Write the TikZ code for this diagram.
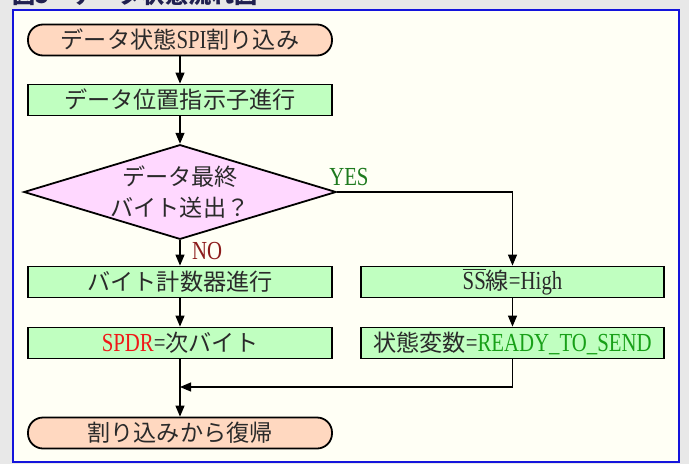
\documentclass[tikz,border=0pt]{standalone}
\usepackage{fontspec}
\setmainfont{Liberation Serif}[FakeStretch=0.8]
\newfontfamily\jp{Noto Sans CJK JP}[Scale=0.89]
\usetikzlibrary{shapes.geometric,arrows.meta}
\definecolor{bg}{HTML}{E8E8E8}
\definecolor{panel}{HTML}{FFFFF5}
\definecolor{frame}{HTML}{1414DC}
\definecolor{term}{HTML}{FFD8C0}
\definecolor{proc}{HTML}{C0FFC0}
\definecolor{dec}{HTML}{FFD8FF}
\definecolor{yesc}{HTML}{1E7A1E}
\definecolor{noc}{HTML}{8C1C1C}
\definecolor{spdr}{HTML}{F01818}
\definecolor{rdy}{HTML}{18A018}
\definecolor{txt}{HTML}{2A2A2A}
\definecolor{titlec}{HTML}{202050}
\newcommand{\ovl}[1]{\leavevmode\vbox{\hrule height 1.1pt\kern1.6pt\hbox{#1}}}
\begin{document}
\begin{tikzpicture}[x=1pt,y=-1pt,
  base/.style={draw=black,line width=1.8pt,text=txt,font=\fontsize{26}{28}\selectfont,inner sep=0pt},
  termbox/.style={base,fill=term,rounded corners=15pt,minimum width=304pt,minimum height=31pt},
  procbox/.style={base,fill=proc,minimum width=304pt,minimum height=31pt},
  decbox/.style={base,fill=dec,diamond,aspect=3.3,minimum width=302pt,minimum height=91pt,align=center,font=\jp\fontsize{26}{31}\selectfont},
  flow/.style={line width=1.2pt,draw=black,-{Triangle[length=11pt,width=9pt]}},
  lab/.style={font=\fontsize{26}{28}\selectfont,inner sep=0pt}
]
\useasboundingbox (0,0) rectangle (689,464);
\fill[bg] (0,0) rectangle (689,464);
\node[anchor=base west,inner sep=0pt,font=\jp\bfseries\fontsize{26}{28}\selectfont,text=titlec] (title) at (12,3) {図5　データ状態流れ図};
\draw[frame,fill=panel,line width=2pt] (13,10) rectangle (679,462);

\node[termbox] (start) at (180,40) {{\jp データ状態}SPI{\jp 割り込み}};
\node[procbox] (p1) at (180,100) {\jp データ位置指示子進行};
\node[decbox] (dia) at (180,192) {データ最終\\バイト送出？};
\node[procbox] (p2) at (180,282) {\jp バイト計数器進行};
\node[procbox] (p3) at (180,343) {\textcolor{spdr}{SPDR}={\jp 次バイト}};
\node[termbox] (end) at (180,433) {\jp 割り込みから復帰};
\node[procbox,minimum width=303pt] (s1) at (512.5,282) {\ovl{SS}{\jp 線}=High};
\node[procbox,minimum width=303pt] (s2) at (512.5,343) {{\jp 状態変数}=\textcolor{rdy}{READY\_TO\_SEND}};
\coordinate (m) at (180,387);

\draw[flow] (start) -- (p1);
\draw[flow] (p1) -- (dia);
\draw[flow] (dia) -- (p2);
\draw[flow] (p2) -- (p3);
\draw[flow] (p3) -- (end);
\draw[flow] (dia.east) -| (s1.north);
\draw[flow] (s1) -- (s2);
\draw[flow] (s2.south) |- (m);

\node[lab,text=yesc,anchor=base west] (yes) at ([xshift=-8pt,yshift=7pt]dia.east) {YES};
\node[lab,text=noc,anchor=base west] (no) at ([xshift=12pt,yshift=-19.5pt]dia.south) {NO};
\end{tikzpicture}
\end{document}
